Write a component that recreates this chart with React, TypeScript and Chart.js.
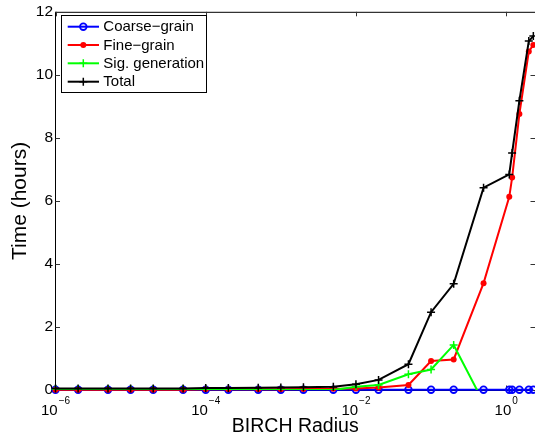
import React, { useEffect, useRef } from "react";
import { Chart, registerables } from "chart.js";

Chart.register(...registerables);

const FONT = "'Liberation Sans', Arial, Helvetica, sans-serif";

// BIRCH radius values (x)
const radii = [1e-6, 2e-6, 5e-6, 1e-5, 2e-5, 5e-5, 1e-4, 2e-4, 5e-4, 1e-3, 2e-3, 5e-3, 1e-2, 2e-2, 5e-2, 0.1, 0.2, 0.5, 1.1, 1.2, 1.5, 2.0, 2.3];

// Time in hours
const coarseGrain = [0.01, 0.01, 0.01, 0.01, 0.01, 0.01, 0.01, 0.01, 0.01, 0.01, 0.01, 0.01, 0.01, 0.01, 0.01, 0.01, 0.01, 0.01, 0.01, 0.01, 0.01, 0.01, 0.01];
const fineGrain = [0.01, 0.01, 0.01, 0.01, 0.01, 0.01, 0.02, 0.02, 0.02, 0.02, 0.03, 0.04, 0.05, 0.08, 0.16, 0.92, 0.97, 3.39, 6.13, 6.74, 8.76, 10.74, 10.95];
const sigGeneration = [0.03, 0.03, 0.03, 0.03, 0.03, 0.03, 0.02, 0.0, 0.0, 0.0, 0.0, 0.0, 0.1, 0.16, 0.5, 0.65, 1.43, -0.4, null, null, null, null, null];
const total = [0.05, 0.05, 0.05, 0.05, 0.05, 0.05, 0.06, 0.06, 0.07, 0.08, 0.085, 0.1, 0.18, 0.32, 0.82, 2.47, 3.37, 6.42, 6.84, 7.52, 9.18, 11.07, 11.23];

const seriesNames = ["Coarse\u2212grain", "Fine\u2212grain", "Sig. generation", "Total"];
const seriesColors = ["#0000ff", "#ff0000", "#00ff00", "#000000"];
const seriesMarkers = ["ring", "dot", "plus", "plus"];

const xTickValues = [1e-6, 1e-4, 1e-2, 1];
const xTickBases = ["10", "10", "10", "10"];
const xTickExponents = ["\u22126", "\u22124", "\u22122", "0"];
const yTickValues = [0, 2, 4, 6, 8, 10, 12];

const xTitle = "BIRCH Radius";
const yTitle = "Time (hours)";

function pts(vals: (number | null)[]) {
  return radii.map((r, i) => ({ x: r, y: vals[i] }));
}

function drawMarker(ctx: CanvasRenderingContext2D, kind: string, x: number, y: number, color: string) {
  ctx.save();
  ctx.strokeStyle = color;
  ctx.fillStyle = color;
  if (kind === "ring") {
    ctx.lineWidth = 1.8;
    ctx.beginPath();
    ctx.arc(x, y, 3.3, 0, Math.PI * 2);
    ctx.stroke();
  } else if (kind === "dot") {
    ctx.beginPath();
    ctx.arc(x, y, 3, 0, Math.PI * 2);
    ctx.fill();
  } else {
    ctx.lineWidth = 1.5;
    ctx.beginPath();
    ctx.moveTo(x - 4, y);
    ctx.lineTo(x + 4, y);
    ctx.moveTo(x, y - 4);
    ctx.lineTo(x, y + 4);
    ctx.stroke();
  }
  ctx.restore();
}

const framePlugin = {
  id: "frame",
  beforeDatasetsDraw(chart: any) {
    const { ctx, chartArea: a, scales } = chart;
    ctx.save();
    ctx.strokeStyle = "#000";
    ctx.lineWidth = 1;
    ctx.beginPath();
    ctx.moveTo(a.left, a.top + 0.5);
    ctx.lineTo(a.right + 2, a.top + 0.5);
    ctx.moveTo(a.left, a.top);
    ctx.lineTo(a.left, a.bottom + 0.5);
    ctx.moveTo(a.left, a.bottom + 0.5);
    ctx.lineTo(a.right + 2, a.bottom + 0.5);
    ctx.stroke();
    ctx.strokeStyle = "#333";
    ctx.beginPath();
    for (const v of yTickValues) {
      const y = Math.round(scales.y.getPixelForValue(v)) + 0.5;
      ctx.moveTo(a.left, y);
      ctx.lineTo(a.left + 4.5, y);
      ctx.moveTo(a.right, y);
      ctx.lineTo(a.right - 4.5, y);
    }
    for (const v of xTickValues) {
      const x = Math.round(scales.x.getPixelForValue(v)) + 0.5;
      ctx.moveTo(x, a.bottom);
      ctx.lineTo(x, a.bottom - 4.5);
      ctx.moveTo(x, a.top);
      ctx.lineTo(x, a.top + 4.5);
    }
    ctx.stroke();
    ctx.restore();
  },
  afterDraw(chart: any) {
    const { ctx, scales } = chart;
    ctx.save();
    ctx.fillStyle = "#000";
    ctx.textAlign = "left";
    ctx.textBaseline = "alphabetic";
    xTickValues.forEach((v, i) => {
      const x = scales.x.getPixelForValue(v);
      ctx.font = `15px ${FONT}`;
      const wb = ctx.measureText(xTickBases[i]).width;
      ctx.font = `10px ${FONT}`;
      const we = ctx.measureText(xTickExponents[i]).width;
      const start = x - (wb + 1 + we) / 2;
      ctx.font = `15px ${FONT}`;
      ctx.fillText(xTickBases[i], start, 415);
      ctx.font = `10px ${FONT}`;
      ctx.fillText(xTickExponents[i], start + wb + 1, 403.5);
    });

    // legend box
    const lx = 61.5, ly = 15.5, lw = 145, lh = 77;
    ctx.fillStyle = "#fff";
    ctx.fillRect(lx, ly, lw, lh);
    ctx.strokeStyle = "#000";
    ctx.lineWidth = 1;
    ctx.strokeRect(lx, ly, lw, lh);
    const rows = [26.7, 45, 63.3, 81.7];
    seriesNames.forEach((name, i) => {
      const y = rows[i];
      ctx.strokeStyle = seriesColors[i];
      ctx.lineWidth = 2;
      ctx.beginPath();
      ctx.moveTo(67.7, y);
      ctx.lineTo(99, y);
      ctx.stroke();
      drawMarker(ctx, seriesMarkers[i], 83.3, y, seriesColors[i]);
      ctx.fillStyle = "#000";
      ctx.font = `15px ${FONT}`;
      ctx.textBaseline = "middle";
      ctx.fillText(name, 103.3, y + 0.5);
    });
    ctx.restore();
  },
};

export default function App() {
  const ref = useRef<HTMLCanvasElement | null>(null);
  useEffect(() => {
    if (!ref.current) return;
    const chart = new Chart(ref.current, {
      type: "line",
      data: {
        datasets: [
          {
            label: seriesNames[0],
            data: pts(coarseGrain),
            borderColor: seriesColors[0],
            borderWidth: 2,
            pointStyle: "circle",
            pointRadius: 3.3,
            pointBorderWidth: 1.8,
            pointBorderColor: seriesColors[0],
            pointBackgroundColor: "rgba(0,0,0,0)",
            clip: false,
            order: 4,
          } as any,
          {
            label: seriesNames[1],
            data: pts(fineGrain),
            borderColor: seriesColors[1],
            borderWidth: 2,
            pointStyle: "circle",
            pointRadius: 3,
            pointBorderWidth: 0,
            pointBackgroundColor: seriesColors[1],
            clip: false,
            order: 3,
          },
          {
            label: seriesNames[2],
            data: pts(sigGeneration),
            borderColor: seriesColors[2],
            borderWidth: 2,
            pointStyle: "cross",
            pointRadius: 4,
            pointBorderWidth: 1.5,
            pointBorderColor: seriesColors[2],
            clip: { left: false, top: false, right: false, bottom: 0 },
            order: 2,
          },
          {
            label: seriesNames[3],
            data: pts(total),
            borderColor: seriesColors[3],
            borderWidth: 2,
            pointStyle: "cross",
            pointRadius: 4,
            pointBorderWidth: 1.5,
            pointBorderColor: seriesColors[3],
            clip: false,
            order: 1,
          },
        ] as any,
      },
      options: {
        responsive: false,
        animation: false,
        devicePixelRatio: 1,
        layout: { autoPadding: false, padding: { top: 10, left: 0, right: 0, bottom: 0 } },
        plugins: { legend: { display: false }, tooltip: { enabled: false } },
        scales: {
          x: {
            type: "logarithmic",
            min: 1e-6,
            max: 2.42,
            grid: { display: false, drawTicks: false },
            border: { display: false },
            ticks: { display: false },
            afterBuildTicks: (s: any) => {
              s.ticks = xTickValues.map((v) => ({ value: v }));
            },
            afterFit: (s: any) => {
              s.height = 49;
            },
            title: {
              display: true,
              text: xTitle,
              color: "#000",
              font: { size: 19.5, family: FONT, lineHeight: 1.2 },
              padding: { top: 0, bottom: 0.3 },
            },
          },
          y: {
            type: "linear",
            min: 0,
            max: 12,
            grid: { display: false, drawTicks: false },
            border: { display: false },
            afterBuildTicks: (s: any) => {
              s.ticks = yTickValues.map((v) => ({ value: v }));
            },
            ticks: {
              color: "#000",
              padding: 2.5,
              font: { size: 15.5, family: FONT },
            },
            afterFit: (s: any) => {
              s.width = 55.5;
            },
            title: {
              display: true,
              text: yTitle,
              color: "#000",
              font: { size: 21, family: FONT, lineHeight: 1.2 },
              padding: { top: 7.4, bottom: 0 },
            },
          },
        },
      } as any,
      plugins: [framePlugin],
    });
    return () => chart.destroy();
  }, []);
  return (
    <div style={{ position: "fixed", left: 0, top: 0, width: 535, height: 439, background: "#fff" }}>
      <canvas ref={ref} width={535} height={439} style={{ display: "block" }} />
    </div>
  );
}
